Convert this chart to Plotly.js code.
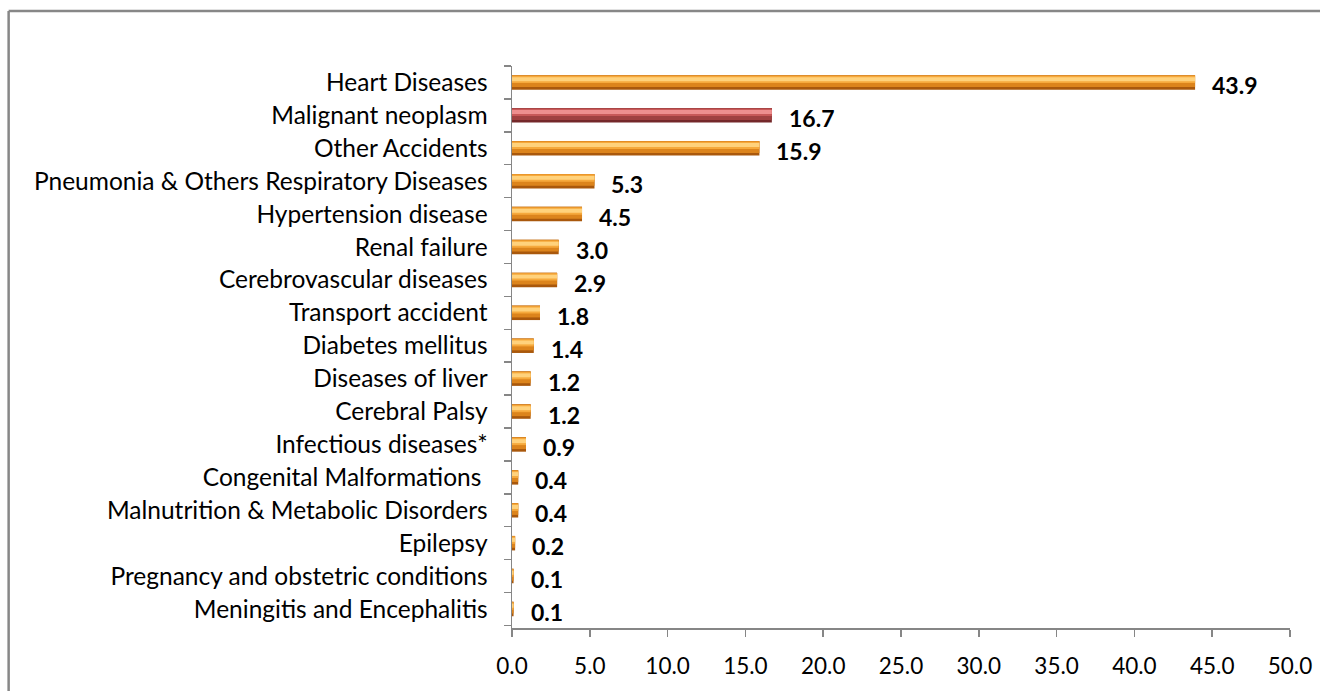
<!DOCTYPE html>
<html>
<head>
<meta charset="utf-8">
<script src="https://cdn.plot.ly/plotly-3.0.1.min.js"></script>
<style>html,body{margin:0;padding:0;background:#fff;overflow:hidden;}#chart{width:1320px;height:691px;}</style>
</head>
<body>
<div id="chart"></div>
<script>
// Data (top to bottom as shown)
var categories = [
  "Heart Diseases",
  "Malignant neoplasm",
  "Other Accidents",
  "Pneumonia & Others Respiratory Diseases",
  "Hypertension disease",
  "Renal failure",
  "Cerebrovascular diseases",
  "Transport accident",
  "Diabetes mellitus",
  "Diseases of liver",
  "Cerebral Palsy",
  "Infectious diseases*",
  "Congenital Malformations ",
  "Malnutrition & Metabolic Disorders",
  "Epilepsy",
  "Pregnancy and obstetric conditions",
  "Meningitis and Encephalitis"
];
var values = [43.9, 16.7, 15.9, 5.3, 4.5, 3.0, 2.9, 1.8, 1.4, 1.2, 1.2, 0.9, 0.4, 0.4, 0.2, 0.1, 0.1];
var highlighted = "Malignant neoplasm";
var xTicks = [0, 5, 10, 15, 20, 25, 30, 35, 40, 45, 50];

// plot bottom-to-top
var cats = categories.slice().reverse();
var vals = values.slice().reverse();
function colors(normal, hi) {
  return cats.map(function (c) { return c === highlighted ? hi : normal; });
}
var FONT = "Lato, 'Open Sans', sans-serif";

var layers = [
  {w: 0.44, o: -0.22, c: colors("#A9580C", "#74282A")},  // dark base
  {w: 0.36, o: -0.14, c: colors("#DC841C", "#A04040")},  // mid
  {w: 0.22, o: -0.02, c: colors("#F6A93C", "#C85858")},  // orange
  {w: 0.12, o: 0.04, c: colors("#FFD27C", "#EE8E8E")}   // highlight
];
var traces = layers.map(function (L) {
  return {
    type: "bar", orientation: "h",
    x: vals, y: cats,
    width: L.w, offset: L.o,
    marker: {color: L.c, line: {width: 0}},
    hoverinfo: "skip", showlegend: false
  };
});

var annotations = cats.map(function (c, i) {
  return {
    x: vals[i], y: c, xref: "x", yref: "y",
    text: vals[i].toFixed(1), showarrow: false,
    xanchor: "left", yanchor: "middle", xshift: 15, yshift: -3,
    font: {family: FONT, size: 23, color: "#000", weight: "bold"}
  };
});

var borderStyle = {color: "#878787", width: 2.5};
var layout = {
  width: 1320, height: 691,
  margin: {l: 512, r: 30, t: 66, b: 63},
  paper_bgcolor: "#fff", plot_bgcolor: "#fff",
  barmode: "overlay",
  font: {family: FONT, size: 23, color: "#000"},
  xaxis: {
    range: [0, 50], tickvals: xTicks, tickformat: ".1f",
    showgrid: false, zeroline: false,
    showline: true, linecolor: "#868686", linewidth: 1.5,
    ticks: "outside", ticklen: 7, tickcolor: "#868686", tickwidth: 1.5,
    ticklabelstandoff: 10,
    tickfont: {family: FONT, size: 22.5, color: "#000"}, fixedrange: true
  },
  yaxis: {
    type: "category", categoryorder: "array", categoryarray: cats,
    showgrid: false, zeroline: false,
    showline: true, linecolor: "#868686", linewidth: 1.5,
    ticks: "outside", ticklen: 7, tickcolor: "#868686", tickwidth: 1.5,
    tickson: "boundaries", ticklabelstandoff: 18,
    tickfont: {family: FONT, size: 24.5, color: "#000"}, fixedrange: true
  },
  annotations: annotations,
  shapes: [
    {type: "line", xref: "paper", yref: "paper", x0: -0.647, x1: -0.647, y0: -0.3, y1: 1.098, line: borderStyle, layer: "below"},
    {type: "line", xref: "paper", yref: "paper", x0: -0.647, x1: 1.2, y0: 1.098, y1: 1.098, line: borderStyle, layer: "below"}
  ]
};
Plotly.newPlot("chart", traces, layout, {displayModeBar: false, staticPlot: true});
</script>
</body>
</html>
